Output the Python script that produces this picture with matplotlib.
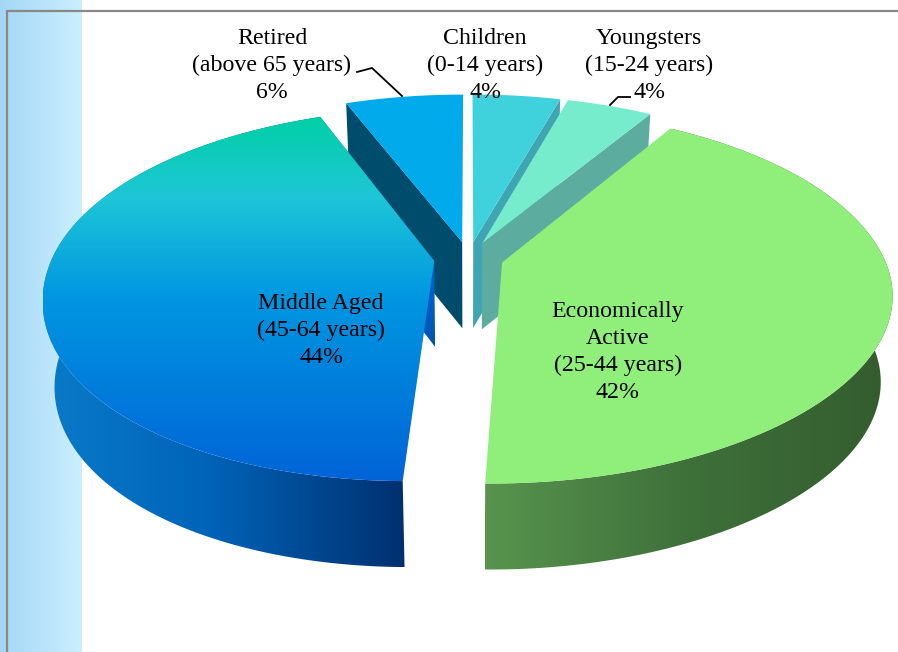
import numpy as np
import matplotlib
matplotlib.use("Agg")
import matplotlib.pyplot as plt
from matplotlib.patches import Polygon
from matplotlib.colors import LinearSegmentedColormap as LSC

names = ["Children\n(0-14 years)", "Youngsters\n(15-24 years)",
         "Economically\nActive\n(25-44 years)", "Middle Aged\n(45-64 years)",
         "Retired\n(above 65 years)"]
shares = [4.4, 4.3, 41.5, 43.9, 5.9]

W, H = 898, 652
CX, CY, R, RS, K, SHEAR = 468.5, 258.0, 382.0, 179.4, 0.18, 17.5
EXPLODE, DEPTH, BOTTOM_SCALE = 0.091, 86.0, 0.972

def rgb(*c):
    return tuple(v / 255 for v in c)

plt.rcParams["font.family"] = ["Liberation Serif", "DejaVu Serif"]
fig = plt.figure(figsize=(W / 100, H / 100), dpi=100)
ax = fig.add_axes([0, 0, 1, 1])
ax.set_xlim(0, W)
ax.set_ylim(H, 0)
ax.axis("off")

def project(wx, wy):
    wx, wy = np.asarray(wx, float), np.asarray(wy, float)
    f = 1 / (1 + K * wy)
    shift = -SHEAR * np.where(wy < 0, wy ** 2, 0.0)
    return CX + R * wx * f + shift, CY - RS * wy * f

def to_bottom(x, y):
    return CX + (x - CX) * BOTTOM_SCALE, y + DEPTH

def gradient(poly_xy, stops, horizontal, z):
    cmap = LSC.from_list("g", [(p, rgb(*c)) for p, c in stops])
    xs, ys = poly_xy[:, 0], poly_xy[:, 1]
    x0, x1 = xs.min(), xs.max()
    y0, y1 = ys.min(), ys.max()
    g = np.linspace(0, 1, 256)
    arr = g.reshape(1, -1) if horizontal else g.reshape(-1, 1)
    im = ax.imshow(arr, cmap=cmap, vmin=0, vmax=1, extent=[x0, x1, y1, y0],
                   aspect="auto", origin="upper", zorder=z, interpolation="bilinear")
    patch = Polygon(poly_xy, closed=True, transform=ax.transData, fc="none", ec="none")
    ax.add_patch(patch)
    im.set_clip_path(patch)

# background panel
strip = np.array([[0, 0], [82, 0], [82, H], [0, H]], float)
gradient(strip, [(0, (165, 215, 245)), (1, (203, 239, 255))], True, 0)
ax.plot([W, 6.5, 6.5], [10.5, 10.5, H], color="#888888", lw=1.6, zorder=1,
        solid_joinstyle="miter")
ax.set_xlim(0, W)
ax.set_ylim(H, 0)

# geometry of slices, derived from the shares
edges = np.cumsum([0] + shares) / sum(shares) * 2 * np.pi
slices = []
for a0, a1 in zip(edges[:-1], edges[1:]):
    mid = (a0 + a1) / 2
    ox, oy = EXPLODE * np.sin(mid), EXPLODE * np.cos(mid)
    th = np.linspace(a0, a1, 200)
    ax_x, ax_y = project(ox + np.sin(th), oy + np.cos(th))
    ap_x, ap_y = project(ox, oy)
    slices.append(dict(arc=np.column_stack([ax_x, ax_y]), apex=np.array([ap_x, ap_y])))

def bottom(pts):
    bx, by = to_bottom(pts[..., 0], pts[..., 1])
    return np.stack([bx, by], axis=-1)

def top_poly(s):
    return np.vstack([s["apex"], s["arc"]])

def cut_face(s, end):
    p = s["arc"][end]
    return np.array([s["apex"], p, bottom(p), bottom(s["apex"])])

def side_poly(s):
    return np.vstack([s["arc"], bottom(s["arc"])[::-1]])

children, youngsters, active, middle, retired = slices

# far slices first
ax.add_patch(Polygon(cut_face(retired, 0), fc=rgb(0, 76, 108), ec="none", zorder=2))
ax.add_patch(Polygon(top_poly(retired), fc=rgb(0, 170, 235), ec="none", zorder=3))
ax.add_patch(Polygon(cut_face(children, -1), fc=rgb(64, 165, 178), ec="none", zorder=4))
ax.add_patch(Polygon(top_poly(children), fc=rgb(64, 210, 220), ec="none", zorder=5))
ax.add_patch(Polygon(cut_face(youngsters, -1), fc=rgb(92, 172, 160), ec="none", zorder=6))
ax.add_patch(Polygon(top_poly(youngsters), fc=rgb(118, 236, 205), ec="none", zorder=7))

# economically active
gradient(side_poly(active), [(0, (88, 148, 78)), (0.5, (62, 112, 58)), (1, (52, 92, 46))], True, 8)
ax.add_patch(Polygon(top_poly(active), fc=rgb(144, 238, 122), ec="none", zorder=9))

# middle aged
gradient(cut_face(middle, -1), [(0, (0, 130, 215)), (0.75, (0, 95, 205)), (1, (0, 85, 175))], False, 10)
gradient(side_poly(middle), [(0, (10, 122, 200)), (0.45, (0, 100, 185)), (1, (0, 48, 112))], True, 11)
gradient(top_poly(middle),
         [(0, (0, 208, 165)), (0.22, (30, 198, 215)), (0.5, (0, 150, 225)), (1, (0, 100, 215))],
         False, 12)

# leader lines
ax.plot([357, 372, 402], [72, 68, 96], color="black", lw=1.3, zorder=13)
ax.plot([610, 618, 630], [105, 97, 97], color="black", lw=1.3, zorder=13)

# labels
label_pos = [(485, 39), (649, 39), (618, 312), (321, 304), (272, 39)]
for name, share, (x, y) in zip(names, shares, label_pos):
    ax.text(x, y - 11, f"{name}\n{round(share)}%", ha="center", va="top", fontsize=17.2,
            linespacing=1.38, color="black", zorder=14)

fig.savefig("out.png", dpi=100, facecolor="white")
